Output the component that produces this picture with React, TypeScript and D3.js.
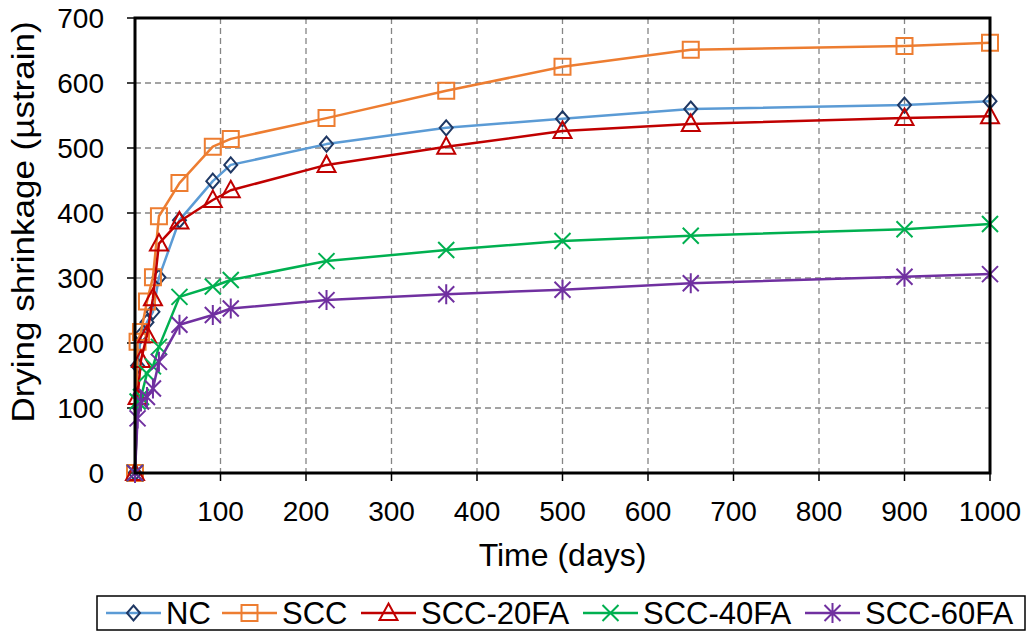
import React from "react";
import * as d3 from "d3";

// Measurement ages (days) shared by every mix
const days = [0, 3, 7, 14, 21, 28, 52, 91, 112, 224, 364, 500, 650, 900, 1000];

// Drying shrinkage (microstrain) per mix
const nc = [0, 165, 212, 232, 248, 301, 389, 449, 474, 506, 531, 545, 560, 566, 572];
const scc = [0, 202, 217, 264, 301, 395, 446, 502, 514, 546, 588, 625, 651, 657, 662];
const scc20fa = [0, 117, 174, 212, 269, 353, 387, 420, 435, 474, 502, 526, 537, 546, 549];
const scc40fa = [0, 110, 117, 153, 164, 194, 271, 287, 297, 326, 343, 357, 365, 375, 383];
const scc60fa = [0, 84, 110, 117, 130, 171, 228, 243, 253, 266, 275, 282, 292, 302, 306];

const xTicks = [0, 100, 200, 300, 400, 500, 600, 700, 800, 900, 1000];
const yTicks = [0, 100, 200, 300, 400, 500, 600, 700];

type MarkerKind = "diamond" | "square" | "triangle" | "x" | "star";

const seriesList: { name: string; values: number[]; line: string; mark: string; kind: MarkerKind }[] = [
  { name: "NC", values: nc, line: "#5B9BD5", mark: "#1F3864", kind: "diamond" },
  { name: "SCC", values: scc, line: "#ED7D31", mark: "#ED7D31", kind: "square" },
  { name: "SCC-20FA", values: scc20fa, line: "#C00000", mark: "#C00000", kind: "triangle" },
  { name: "SCC-40FA", values: scc40fa, line: "#00B050", mark: "#00B050", kind: "x" },
  { name: "SCC-60FA", values: scc60fa, line: "#7030A0", mark: "#7030A0", kind: "star" },
];

const FONT = "'Liberation Sans', Arial, sans-serif";

function markerPath(kind: MarkerKind): string {
  switch (kind) {
    case "diamond":
      return "M0,-7.5L6.5,0L0,7.5L-6.5,0Z";
    case "square":
      return "M-8,-8H8V8H-8Z";
    case "triangle":
      return "M0,-9.5L9,7L-9,7Z";
    case "x":
      return "M-8,-8L8,8M-8,8L8,-8";
    case "star":
      return "M-8,-8L8,8M-8,8L8,-8M0,-10V10";
  }
}

function Marker({ kind, color, x, y }: { kind: MarkerKind; color: string; x: number; y: number }) {
  return (
    <path
      d={markerPath(kind)}
      transform={`translate(${x},${y})`}
      fill="none"
      stroke={color}
      strokeWidth={2}
    />
  );
}

export default function App() {
  const left = 135;
  const right = 990;
  const top = 18;
  const bottom = 473;

  const x = d3.scaleLinear().domain([0, 1000]).range([left, right]);
  const y = d3.scaleLinear().domain([0, 700]).range([bottom, top]);

  const line = d3
    .line<number>()
    .x((_, i) => x(days[i]))
    .y((v) => y(v));

  // legend entry positions: line start and text start
  const legendItems = [
    { lx: 106, tx: 166 },
    { lx: 222, tx: 282 },
    { lx: 361, tx: 421 },
    { lx: 583, tx: 643 },
    { lx: 805, tx: 865 },
  ];

  return (
    <svg
      width={1032}
      height={632}
      style={{ position: "absolute", left: 0, top: 0, background: "#fff" }}
      fontFamily={FONT}
    >
      <rect width={1032} height={632} fill="#fff" />

      {/* dashed grid */}
      {xTicks.slice(1, -1).map((t) => (
        <line key={"gx" + t} x1={x(t)} x2={x(t)} y1={top} y2={bottom} stroke="#858585" strokeWidth={1.3} strokeDasharray="6,4" />
      ))}
      {yTicks.slice(1, -1).map((t) => (
        <line key={"gy" + t} x1={left} x2={right} y1={y(t)} y2={y(t)} stroke="#858585" strokeWidth={1.3} strokeDasharray="6,4" />
      ))}

      {/* tick marks */}
      {xTicks.map((t) => (
        <line key={"tx" + t} x1={x(t)} x2={x(t)} y1={bottom} y2={bottom + 8} stroke="#000" strokeWidth={1.5} />
      ))}
      {yTicks.map((t) => (
        <line key={"ty" + t} x1={left - 8} x2={left} y1={y(t)} y2={y(t)} stroke="#000" strokeWidth={1.5} />
      ))}

      {/* tick labels */}
      {xTicks.map((t) => (
        <text key={"lx" + t} x={x(t)} y={bottom + 48} textAnchor="middle" fontSize={28} fill="#000">
          {t}
        </text>
      ))}
      {yTicks.map((t) => (
        <text key={"ly" + t} x={left - 31} y={y(t) + 10} textAnchor="end" fontSize={28} fill="#000">
          {t}
        </text>
      ))}

      {/* axis titles */}
      <text x={(left + right) / 2} y={566} textAnchor="middle" fontSize={32} fill="#000">
        Time (days)
      </text>
      <text
        transform={`translate(34,222) scale(0.92,1) rotate(-90)`}
        textAnchor="middle"
        fontSize={35}
        fill="#000"
      >
        Drying shrinkage (µstrain)
      </text>

      {/* series */}
      {seriesList.map((s) => (
        <g key={s.name}>
          <path d={line(s.values) ?? ""} fill="none" stroke={s.line} strokeWidth={2.5} strokeLinejoin="round" />
          {s.values.map((v, i) => (
            <Marker key={i} kind={s.kind} color={s.mark} x={x(days[i])} y={y(v)} />
          ))}
        </g>
      ))}

      {/* plot frame */}
      <rect x={left} y={top} width={right - left} height={bottom - top} fill="none" stroke="#000" strokeWidth={3} />

      {/* legend */}
      <rect x={97} y={596} width={928} height={34} fill="#fff" stroke="#000" strokeWidth={1.5} />
      {seriesList.map((s, i) => {
        const it = legendItems[i];
        return (
          <g key={"leg" + s.name}>
            <line x1={it.lx} x2={it.lx + 55} y1={613} y2={613} stroke={s.line} strokeWidth={2.5} />
            <Marker kind={s.kind} color={s.mark} x={it.lx + 27.5} y={613} />
            <text x={it.tx} y={624} fontSize={31} fill="#000">
              {s.name}
            </text>
          </g>
        );
      })}
    </svg>
  );
}
